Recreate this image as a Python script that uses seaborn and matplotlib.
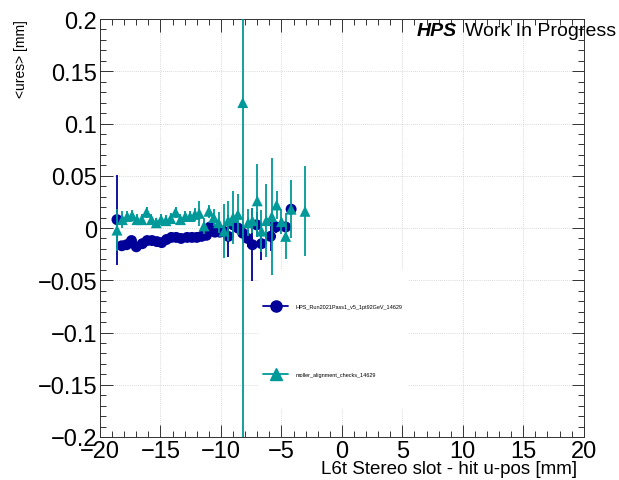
import numpy as np
import pandas as pd
import matplotlib
matplotlib.use("Agg")
import matplotlib.pyplot as plt
from matplotlib.lines import Line2D
from matplotlib.patches import Rectangle
from matplotlib.ticker import MultipleLocator, FuncFormatter
import seaborn as sns

# values
blue_label = "HPS_Run2021Pass1_v5_1pt92GeV_14629"
blue_x = [-18.6, -18.2, -17.8, -17.4, -17.0, -16.5, -16.1, -15.7, -15.3, -14.9,
          -14.5, -14.1, -13.7, -13.3, -12.8, -12.4, -12.0, -11.6, -11.2, -10.9,
          -10.5, -10.1, -9.8, -9.4, -9.0, -8.6, -8.2, -7.8, -7.4, -7.05,
          -6.65, -5.9, -5.45, -4.65, -4.2]
blue_y = [0.008, -0.017, -0.016, -0.012, -0.018, -0.015, -0.012, -0.012, -0.013, -0.014,
          -0.011, -0.009, -0.009, -0.010, -0.009, -0.009, -0.009, -0.008, -0.007, 0.001,
          -0.004, -0.004, -0.003, -0.008, 0.003, 0.000, -0.005, -0.010, -0.016, 0.003,
          -0.015, -0.008, 0.001, 0.001, 0.018]
blue_err = [0.043, 0.004, 0.003, 0.003, 0.003, 0.003, 0.003, 0.003, 0.003, 0.003,
            0.003, 0.003, 0.003, 0.003, 0.003, 0.003, 0.003, 0.003, 0.004, 0.005,
            0.004, 0.004, 0.005, 0.020, 0.006, 0.006, 0.006, 0.008, 0.035, 0.012,
            0.016, 0.014, 0.006, 0.006, 0.004]

teal_label = "moller_alignment_checks_14629"
teal_x = [-18.6, -18.15, -17.75, -17.35, -16.95, -16.55, -16.15, -15.75, -15.35, -14.95,
          -14.55, -14.15, -13.75, -13.35, -12.95, -12.55, -12.15, -11.8, -11.4, -11.0,
          -10.6, -10.2, -9.75, -9.4, -9.0, -8.6, -8.2, -7.75, -7.4, -7.0,
          -6.65, -6.25, -5.8, -5.4, -5.0, -4.65, -4.2, -3.05]
teal_y = [-0.002, 0.008, 0.011, 0.012, 0.008, 0.008, 0.015, 0.008, 0.005, 0.008,
          0.007, 0.009, 0.015, 0.008, 0.011, 0.011, 0.013, 0.014, 0.002, 0.016,
          0.010, 0.005, -0.003, 0.007, 0.010, 0.013, 0.120, 0.005, 0.007, 0.026,
          -0.003, 0.007, 0.011, 0.022, 0.006, -0.008, 0.018, 0.016]
teal_err = [0.020, 0.008, 0.005, 0.005, 0.005, 0.005, 0.005, 0.005, 0.005, 0.005,
            0.005, 0.005, 0.005, 0.005, 0.005, 0.005, 0.006, 0.012, 0.008, 0.006,
            0.008, 0.010, 0.026, 0.019, 0.025, 0.020, 0.350, 0.013, 0.012, 0.035,
            0.020, 0.035, 0.056, 0.013, 0.012, 0.022, 0.028, 0.043]

blue_col = "#000099"
teal_col = "#009999"

df_b = pd.DataFrame({"x": blue_x, "y": blue_y, "e": blue_err})
df_t = pd.DataFrame({"x": teal_x, "y": teal_y, "e": teal_err})

sns.set_theme(style="white")
plt.rcParams["font.family"] = ["Liberation Sans", "DejaVu Sans"]
plt.rcParams["text.color"] = "black"
plt.rcParams["axes.labelcolor"] = "black"
plt.rcParams["xtick.color"] = "black"
plt.rcParams["ytick.color"] = "black"

fig = plt.figure(figsize=(6.19, 4.81), dpi=100)
ax = fig.add_axes([0.1616, 0.0894, 0.7815, 0.869])
ax.set_axisbelow(True)

# blue first, teal on top
ax.errorbar(df_b["x"], df_b["y"], yerr=df_b["e"], fmt="none", ecolor=blue_col,
            elinewidth=1.3, capsize=0, zorder=2)
sns.scatterplot(data=df_b, x="x", y="y", ax=ax, color=blue_col, marker="o",
                s=62, edgecolor="none", zorder=3, legend=False)
ax.errorbar(df_t["x"], df_t["y"], yerr=df_t["e"], fmt="none", ecolor=teal_col,
            elinewidth=1.3, capsize=0, zorder=4)
sns.scatterplot(data=df_t, x="x", y="y", ax=ax, color=teal_col, marker="^",
                s=62, edgecolor="none", zorder=5, legend=False)

ax.set_xlim(-20, 20)
ax.set_ylim(-0.2, 0.2)

ax.xaxis.set_major_locator(MultipleLocator(5))
ax.xaxis.set_minor_locator(MultipleLocator(1))
ax.yaxis.set_major_locator(MultipleLocator(0.05))
ax.yaxis.set_minor_locator(MultipleLocator(0.01))
fmt = FuncFormatter(lambda v, p: ("%g" % round(v, 4)).replace("-", "\u2212"))
ax.xaxis.set_major_formatter(fmt)
ax.yaxis.set_major_formatter(fmt)

ax.tick_params(which="both", direction="in", top=True, right=True, bottom=True, left=True,
               color="#333333", width=0.7)
ax.tick_params(which="major", length=9, labelsize=17, pad=2)
ax.tick_params(which="minor", length=4.5)
ax.grid(True, which="major", color="#cccccc", linestyle=(0, (1, 1.5)), linewidth=0.6)
for s in ax.spines.values():
    s.set_color("#333333")
    s.set_linewidth(0.7)

ax.set_xlabel("L6t Stereo slot - hit u-pos [mm]", fontsize=13.5, loc="right")
ax.xaxis.set_label_coords(0.9855, -0.056)
ax.set_ylabel("<ures> [mm]", fontsize=10, loc="top")
ax.yaxis.set_label_coords(-0.148, 1.0)

fig.text(457 / 619, 0.925, "HPS", fontsize=14, fontweight="bold", fontstyle="italic",
         ha="right", va="baseline")
fig.text(616 / 619, 0.925, "Work In Progress", fontsize=14, ha="right", va="baseline")

# white legend pad
ax.add_patch(Rectangle((0.326, 0.067), 0.31, 0.333, transform=ax.transAxes,
                       facecolor="white", edgecolor="none", zorder=1))
handles = [Line2D([0], [0], color=blue_col, marker="o", ms=8, lw=1.3),
           Line2D([0], [0], color=teal_col, marker="^", ms=8, lw=1.3)]
ax.legend(handles, [blue_label, teal_label], loc="upper left",
          bbox_to_anchor=(0.337, 0.318), frameon=False, fontsize=4,
          borderpad=0, handlelength=4.5, handletextpad=1.3, labelspacing=11.4,
          borderaxespad=0)

fig.savefig("out.png", dpi=100)
